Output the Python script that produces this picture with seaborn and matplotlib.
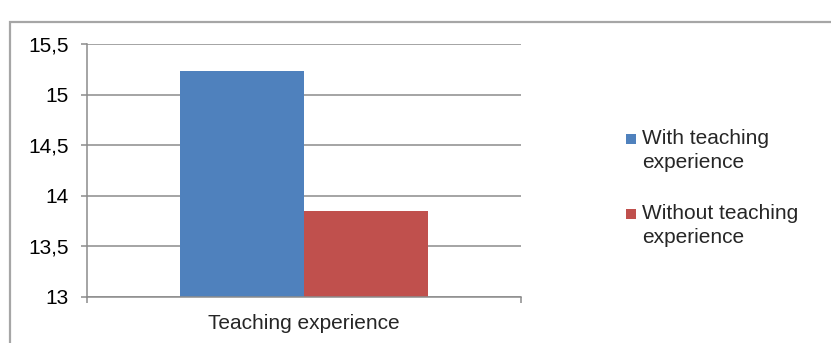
import matplotlib
matplotlib.use("Agg")
import matplotlib.pyplot as plt
import seaborn as sns
import pandas as pd
from matplotlib.patches import Rectangle
from matplotlib.legend_handler import HandlerBase

categories = ["Teaching experience"]
groups = ["With teaching\nexperience", "Without teaching\nexperience"]
values = [15.23, 13.845]
colors = ["#4F81BD", "#C0504D"]
yticks = [13, 13.5, 14, 14.5, 15, 15.5]
ytick_labels = ["13", "13,5", "14", "14,5", "15", "15,5"]

df = pd.DataFrame({"cat": categories * len(groups), "group": groups, "value": values})

sns.set_theme(style="white")
plt.rcParams["font.family"] = ["Liberation Sans", "DejaVu Sans"]

W, H = 831, 343
fig = plt.figure(figsize=(W / 100, H / 100), dpi=100)
ax = fig.add_axes([87 / W, 1 - 297 / H, (521 - 87) / W, (297 - 44) / H])

sns.barplot(data=df, x="cat", y="value", hue="group", palette=colors,
            width=0.571, ax=ax, legend=True, saturation=1, edgecolor="none", linewidth=0)

grid_c = "#8c8c8c"
ax.set_ylim(13, 15.5)
ax.set_xlim(-0.5, 0.5)
ax.set_yticks(yticks)
ax.set_yticklabels(ytick_labels, fontsize=15)
ax.yaxis.grid(True, color=grid_c, linewidth=1.1)
ax.set_axisbelow(True)
ax.set_xticks([-0.5, 0.5])
ax.set_xticklabels(["", ""])
ax.set_xticks([0], minor=True)
ax.set_xticklabels(categories, minor=True, fontsize=15)
ax.tick_params(axis="x", which="major", length=4.5, width=1.1, color=grid_c, direction="out", bottom=True)
ax.tick_params(axis="x", which="minor", length=0, pad=12)
ax.tick_params(axis="y", length=4.5, width=1.1, color=grid_c, direction="out", left=True, pad=8.5)
ax.set_xlabel("")
ax.set_ylabel("")
for s in ["top", "right"]:
    ax.spines[s].set_visible(False)
for s in ["left", "bottom"]:
    ax.spines[s].set_color(grid_c)
    ax.spines[s].set_linewidth(1.1)
ax.tick_params(colors="black", labelcolor="black")
ax.tick_params(axis="both", color=grid_c)


class TopSquare(HandlerBase):
    def __init__(self, dy=0.0, **kw):
        super().__init__(**kw)
        self.dy = dy

    def create_artists(self, legend, orig_handle, xdescent, ydescent,
                       width, height, fontsize, trans):
        s = width
        p = Rectangle((-xdescent, -ydescent + self.dy * fontsize), s, s,
                      facecolor=orig_handle.get_facecolor(), edgecolor="none",
                      transform=trans)
        return [p]


handles, labels = ax.get_legend_handles_labels()
if ax.get_legend() is not None:
    ax.get_legend().remove()
hmap = {h: TopSquare(dy=0.6) for h in handles}
leg = fig.legend(handles, labels, loc="center left", bbox_to_anchor=(626 / W, 1 - 188 / H),
                 frameon=False, fontsize=15, handlelength=0.48, handleheight=0.48,
                 handletextpad=0.3, labelspacing=1.55, borderpad=0, borderaxespad=0,
                 handler_map=hmap)
for t in leg.get_texts():
    t.set_linespacing(1.35)

frame = Rectangle((9.5 / W, -0.1), 1.2, 1 - 22 / H + 0.1, transform=fig.transFigure,
                  facecolor="none", edgecolor="#a6a6a6", linewidth=1.6, clip_on=False)
fig.patches.append(frame)

fig.savefig("out.png", dpi=100)
